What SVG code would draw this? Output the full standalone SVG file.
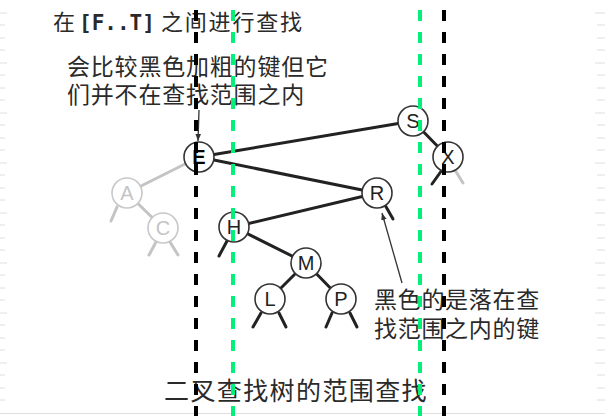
<svg xmlns="http://www.w3.org/2000/svg" width="605" height="416" viewBox="0 0 605 416">
<style>
.cjk{font-family:"Noto Sans CJK SC","Noto Sans",sans-serif;fill:#2a2a2a}
.edge{stroke:#222;stroke-width:3;stroke-linecap:round;fill:none}
.gedge{stroke:#c4c4c4;stroke-width:3;stroke-linecap:round;fill:none}
.node circle{fill:#fff;stroke:#333;stroke-width:1.6}
.node text{font-family:"Liberation Sans",Arial,sans-serif;font-size:20px;fill:#222;text-anchor:middle}
.grey circle{stroke:#c8c8c8}
.grey text{fill:#c4c4c4}
.bdash{stroke:#000;stroke-width:4;stroke-dasharray:11 11}
.gdash{stroke:#00f07a;stroke-width:4;stroke-dasharray:11 11}
.thin{stroke:#333;stroke-width:1.3;fill:none}
.tick{stroke:#dedede;stroke-width:1}
</style>
<defs>
<marker id="ah" viewBox="0 0 10 10" refX="10" refY="5" markerWidth="7" markerHeight="7" orient="auto" markerUnits="userSpaceOnUse">
<path d="M0,1 L10,5 L0,9 Z" fill="#333"/>
</marker>
</defs>
<rect width="605" height="416" fill="#fff"/>
<g id="ruler">
<path class="tick" d="M0,13H7M0,25H5M0,38H5M0,50H5M0,63H7M0,75H5M0,88H5M0,100H5M0,113H7M0,125H5M0,138H5M0,150H5M0,163H7M0,175H5M0,188H5M0,200H5M0,213H7M0,225H5M0,238H5M0,250H5M0,263H7M0,275H5M0,288H5M0,300H5M0,313H7M0,325H5M0,338H5M0,350H5M0,363H7M0,375H5M0,388H5M0,400H5"/>
<path class="tick" d="M605,13H595M605,25H597M605,38H597M605,50H597M605,63H595M605,75H597M605,88H597M605,100H597M605,113H595M605,125H597M605,138H597M605,150H597M605,163H595M605,175H597M605,188H597M605,200H597M605,213H595M605,225H597M605,238H597M605,250H597M605,263H595M605,275H597M605,288H597M605,300H597M605,313H595M605,325H597M605,338H597M605,350H597M605,363H595M605,375H597M605,388H597M605,400H597"/>
<path class="tick" d="M0,413.5H605"/>
</g>
<g id="connectors">
<line class="gedge" x1="199" y1="157" x2="127" y2="193"/>
<line class="gedge" x1="127" y1="193" x2="163" y2="228"/>
<line class="gedge" x1="117" y1="207" x2="111" y2="221"/>
<line class="gedge" x1="156" y1="242" x2="149" y2="255"/>
<line class="gedge" x1="170" y1="242" x2="178" y2="255"/>
<line class="edge" x1="199" y1="157" x2="413" y2="121"/>
<line class="edge" x1="199" y1="157" x2="377" y2="193"/>
<line class="edge" x1="413" y1="121" x2="448" y2="157"/>
<line class="edge" x1="377" y1="193" x2="234" y2="227"/>
<line class="edge" x1="234" y1="227" x2="306" y2="263"/>
<line class="edge" x1="306" y1="263" x2="270" y2="299"/>
<line class="edge" x1="306" y1="263" x2="341" y2="299"/>
<line class="edge" x1="227" y1="241" x2="219" y2="256"/>
<line class="edge" x1="385" y1="205" x2="393" y2="219"/>
<line class="edge" x1="442" y1="170" x2="432" y2="184"/>
<line class="gedge" x1="455" y1="170" x2="463" y2="183"/>
<line class="edge" x1="261" y1="313" x2="253" y2="327"/>
<line class="edge" x1="279" y1="313" x2="286" y2="327"/>
<line class="edge" x1="332" y1="313" x2="326" y2="327"/>
<line class="edge" x1="350" y1="313" x2="357" y2="327"/>
<line class="thin" x1="199" y1="110" x2="198" y2="141" marker-end="url(#ah)"/>
<line class="thin" x1="402" y1="283" x2="382" y2="213" marker-end="url(#ah)"/>
</g>
<g id="node-A" class="node grey"><circle cx="127" cy="193" r="15"/><text x="127" y="200">A</text></g>
<g id="node-C" class="node grey"><circle cx="163" cy="228" r="15"/><text x="163" y="235">C</text></g>
<g id="node-E" class="node"><circle cx="199" cy="157" r="15"/><text x="199" y="164" font-weight="bold" style="fill:#000">E</text></g>
<g id="node-S" class="node"><circle cx="413" cy="121" r="15"/><text x="413" y="128">S</text></g>
<g id="node-X" class="node"><circle cx="448" cy="157" r="15"/><text x="448" y="164">X</text></g>
<g id="node-R" class="node"><circle cx="377" cy="193" r="15"/><text x="377" y="200">R</text></g>
<g id="node-H" class="node"><circle cx="234" cy="227" r="15"/><text x="234" y="234">H</text></g>
<g id="node-M" class="node"><circle cx="306" cy="263" r="15"/><text x="306" y="270">M</text></g>
<g id="node-L" class="node"><circle cx="270" cy="299" r="15"/><text x="270" y="306">L</text></g>
<g id="node-P" class="node"><circle cx="341" cy="299" r="15"/><text x="341" y="306">P</text></g>
<g id="labels">
<text class="cjk" font-size="22" y="30"><tspan x="53">在</tspan><tspan x="79" font-family="'DejaVu Sans Mono','Liberation Mono',monospace" font-weight="bold" font-size="21">[F..T]</tspan><tspan x="161" letter-spacing="1.8">之间进行查找</tspan></text>
<text class="cjk" font-size="23" letter-spacing="0.8" x="67" y="75">会比较黑色加粗的键但它</text>
<text class="cjk" font-size="23" letter-spacing="0.8" x="67" y="103">们并不在查找范围之内</text>
<text class="cjk" font-size="23" letter-spacing="0.7" x="374" y="308">黑色的是落在查</text>
<text class="cjk" font-size="23" letter-spacing="0.7" x="374" y="337">找范围之内的键</text>
<text class="cjk" font-size="25" letter-spacing="1.4" x="164" y="400">二叉查找树的范围查找</text>
</g>
<g id="range-lines">
<line class="bdash" x1="196" y1="10" x2="196" y2="416"/>
<line class="gdash" x1="233" y1="10" x2="233" y2="416"/>
<line class="gdash" x1="420" y1="10" x2="420" y2="416"/>
<line class="bdash" x1="444" y1="10" x2="444" y2="416"/>
</g>
</svg>
